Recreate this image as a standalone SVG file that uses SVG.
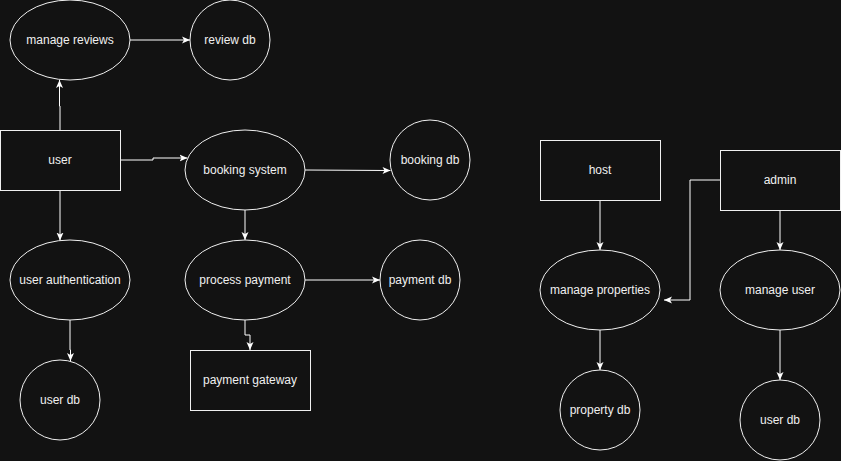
<svg xmlns="http://www.w3.org/2000/svg" width="841" height="461" viewBox="0 0 841 461">
<style>
.s{fill:#121212;stroke:#f0f0f0;stroke-width:1}
.t{fill:#f0f0f0;font-family:"Liberation Sans",Arial,sans-serif;font-size:12px;text-anchor:middle}
.c{fill:none;stroke:#ffffff;stroke-width:1}
</style>
<defs>
<marker id="a" viewBox="0 0 8 8" refX="8" refY="4" markerWidth="8" markerHeight="8" markerUnits="userSpaceOnUse" orient="auto">
<path d="M0,0.5 L8,4 L0,7.5 L2,4 Z" fill="#ffffff"/>
</marker>
</defs>
<rect width="841" height="461" fill="#121212"/>
<g id="connectors">
<path class="c" d="M130,40 L190,40" marker-end="url(#a)"/>
<path class="c" d="M60,130 L60,106 L59.5,106 L59.5,80" marker-end="url(#a)"/>
<path class="c" d="M120,160 L153,160 L153,158 L187.5,158" marker-end="url(#a)"/>
<path class="c" d="M60,190 L60,240.5" marker-end="url(#a)"/>
<path class="c" d="M70,320 L70,350 L70.5,350 L70.5,361" marker-end="url(#a)"/>
<path class="c" d="M305,170 L390.5,170.5" marker-end="url(#a)"/>
<path class="c" d="M245,210 L245,240" marker-end="url(#a)"/>
<path class="c" d="M305,280 L380,280" marker-end="url(#a)"/>
<path class="c" d="M245,320 L245,335 L250,335 L250,350" marker-end="url(#a)"/>
<path class="c" d="M600,200 L600,250" marker-end="url(#a)"/>
<path class="c" d="M720,180 L690,180 L690,300 L664,300" marker-end="url(#a)"/>
<path class="c" d="M780,210 L780,250" marker-end="url(#a)"/>
<path class="c" d="M600,330 L600,370" marker-end="url(#a)"/>
<path class="c" d="M780,330 L780,380" marker-end="url(#a)"/>
</g>
<g id="manage-reviews"><ellipse class="s" cx="70" cy="40" rx="60" ry="40"/><text class="t" x="70" y="44">manage reviews</text></g>
<g id="review-db"><circle class="s" cx="230" cy="40" r="40"/><text class="t" x="230" y="44">review db</text></g>
<g id="user"><rect class="s" x="0.5" y="130.5" width="120" height="60"/><text class="t" x="60" y="164">user</text></g>
<g id="booking-system"><ellipse class="s" cx="245" cy="170" rx="60" ry="40"/><text class="t" x="245" y="174">booking system</text></g>
<g id="booking-db"><circle class="s" cx="430" cy="160" r="40"/><text class="t" x="430" y="164">booking db</text></g>
<g id="user-authentication"><ellipse class="s" cx="70" cy="280" rx="60" ry="40"/><text class="t" x="70" y="284">user authentication</text></g>
<g id="process-payment"><ellipse class="s" cx="245" cy="280" rx="60" ry="40"/><text class="t" x="245" y="284">process payment</text></g>
<g id="payment-db"><circle class="s" cx="420" cy="280" r="40"/><text class="t" x="420" y="284">payment db</text></g>
<g id="user-db"><circle class="s" cx="60" cy="400" r="40"/><text class="t" x="60" y="404">user db</text></g>
<g id="payment-gateway"><rect class="s" x="190.5" y="350.5" width="120" height="60"/><text class="t" x="250" y="384">payment gateway</text></g>
<g id="host"><rect class="s" x="540.5" y="140.5" width="120" height="60"/><text class="t" x="600" y="174">host</text></g>
<g id="admin"><rect class="s" x="720.5" y="150.5" width="120" height="60"/><text class="t" x="780" y="184">admin</text></g>
<g id="manage-properties"><ellipse class="s" cx="600" cy="290" rx="60" ry="40"/><text class="t" x="600" y="294">manage properties</text></g>
<g id="manage-user"><ellipse class="s" cx="780" cy="290" rx="60" ry="40"/><text class="t" x="780" y="294">manage user</text></g>
<g id="property-db"><circle class="s" cx="600" cy="410" r="40"/><text class="t" x="600" y="414">property db</text></g>
<g id="user-db-2"><circle class="s" cx="780" cy="420" r="40"/><text class="t" x="780" y="424">user db</text></g>
</svg>
